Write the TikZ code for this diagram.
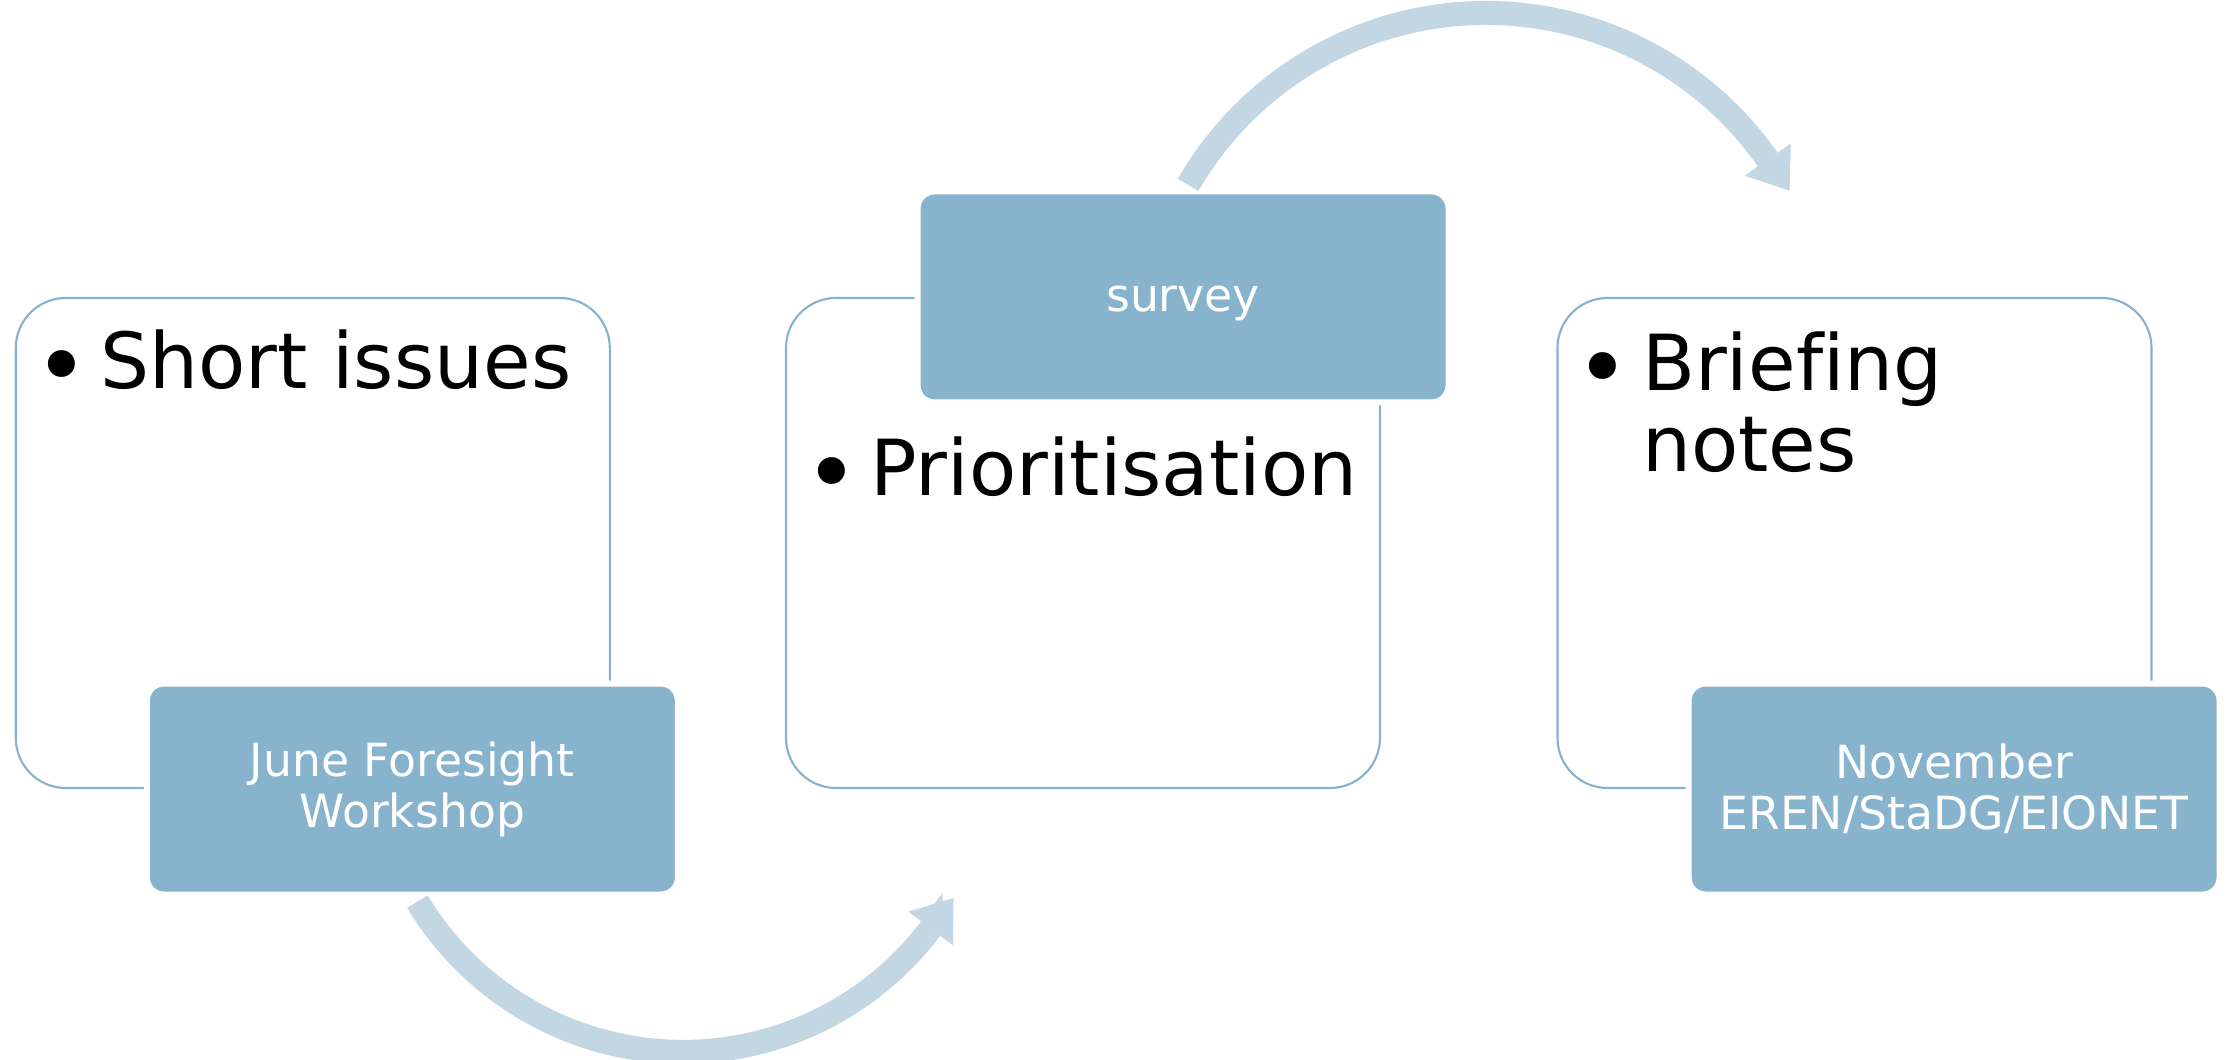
\documentclass[tikz,border=0pt]{standalone}
\usepackage{fontspec}
\setmainfont{DejaVu Sans}[Ligatures=NoCommon]
\usetikzlibrary{arrows.meta}

\definecolor{stageblue}{RGB}{135,179,205}
\definecolor{panelblue}{RGB}{134,178,206}
\definecolor{sweepblue}{RGB}{194,214,227}
\newcommand{\bul}{\llap{\raisebox{-0.1cm}{\scalebox{1.2}{\textbullet}}\hspace{0.115cm}}}

\begin{document}
\begin{tikzpicture}[
  panel/.style={draw=panelblue,line width=0.6pt,rounded corners=0.5cm,minimum width=5.94cm,minimum height=4.9cm,inner sep=0pt},
  stage/.style={fill=stageblue,draw=white,line width=0.06cm,rounded corners=0.17cm,minimum width=5.31cm,minimum height=2.11cm,align=center,text=white,font=\fontsize{13}{14.5}\selectfont},
  entry/.style={anchor=base west,inner sep=0pt,align=left,font=\fontsize{22}{23.3}\selectfont},
  sweep/.style={draw=sweepblue,line width=0.24cm,-{Triangle[length=0.38cm,width=0.56cm,line width=0pt]}}]
  \useasboundingbox (0,0) rectangle (22.26,10.6);
  %left
  \node[panel] (short) at (3.128,5.17) {};
  \node[entry,at=(short.north west),xshift=0.85cm,yshift=-0.92cm] (shorttext) {\bul Short issues};
  \node[stage,at=(short.south east),xshift=-1.985cm] (june) {June Foresight\\Workshop};
  %middle
  \node[panel] (prio) at (10.83,5.17) {};
  \node[entry,at=(prio.north west),xshift=0.85cm,yshift=-1.99cm] (priotext) {\bul Prioritisation};
  \node[stage,at=(prio.north east),xshift=-1.98cm,text height=0.3cm,text depth=0cm] (survey) {survey};
  %right
  \node[panel] (brief) at (18.545,5.17) {};
  \node[entry,at=(brief.north west),xshift=0.85cm,yshift=-1.75cm] (brieftext) {\bul Briefing\\notes};
  \node[stage,at=(brief.south east),xshift=-1.985cm] (nov) {November\\EREN/StaDG/EIONET};
  %arrows
  \draw[sweep] ([xshift=0.05cm,yshift=-0.04cm]june.south) arc[start angle=211,end angle=323,radius=3.10cm] -- ++(53:0.38);
  \draw[sweep] ([xshift=0.05cm,yshift=0.035cm]survey.north) arc[start angle=150,end angle=35,radius=3.44cm] -- ++(-55:0.38);
\end{tikzpicture}
\end{document}
